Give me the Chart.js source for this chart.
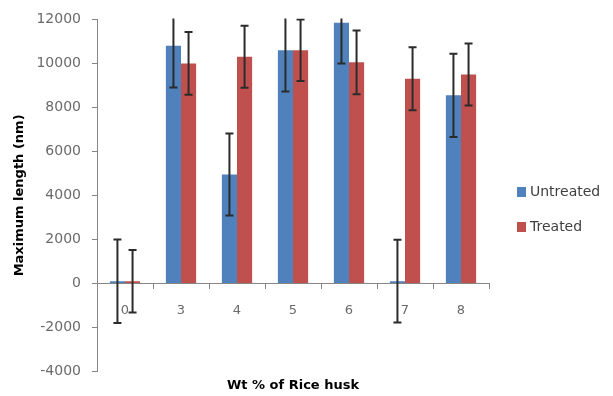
<!DOCTYPE html>
<html>
<head>
<meta charset="utf-8">
<script src="https://cdn.jsdelivr.net/npm/chart.js@4"></script>
<style>
  body { margin: 0; background: #fff; }
  #wrap { width: 613px; height: 396px; }
</style>
</head>
<body>
<div id="wrap"><canvas id="lengthChart" width="613" height="396"></canvas></div>
<script>
const categories = ['0', '3', '4', '5', '6', '7', '8'];
const untreated = [100, 10800, 4950, 10600, 11850, 100, 8550];
const treated = [100, 10000, 10300, 10600, 10050, 9300, 9500];
const untreatedErr = [1900, 1900, 1860, 1880, 1860, 1880, 1890];
const treatedErr = [1420, 1430, 1410, 1400, 1450, 1430, 1410];
const yTicks = { min: -4000, max: 12000, step: 2000 };

const errors = [untreatedErr, treatedErr];

// error bars drawn on top of bars, clipped to the chart area
const errorBars = {
    id: 'errorBars',
    afterDatasetsDraw(chart) {
        const ctx = chart.ctx;
        const y = chart.scales.y;
        const area = chart.chartArea;
        ctx.save();
        ctx.beginPath();
        ctx.rect(area.left, area.top - 1, area.right - area.left, area.bottom - area.top + 2);
        ctx.clip();
        ctx.strokeStyle = '#2b2b2b';
        ctx.lineWidth = 2;
        chart.data.datasets.forEach((ds, i) => {
            const meta = chart.getDatasetMeta(i);
            meta.data.forEach((bar, j) => {
                const v = ds.data[j];
                const e = errors[i][j];
                const top = y.getPixelForValue(v + e);
                const bot = y.getPixelForValue(v - e);
                ctx.beginPath();
                ctx.moveTo(bar.x, top);
                ctx.lineTo(bar.x, bot);
                ctx.moveTo(bar.x - 4, top);
                ctx.lineTo(bar.x + 4, top);
                ctx.moveTo(bar.x - 4, bot);
                ctx.lineTo(bar.x + 4, bot);
                ctx.stroke();
            });
        });
        ctx.restore();
    }
};

// legend on the right, like the Excel one
const sideLegend = {
    id: 'sideLegend',
    afterDraw(chart) {
        const ctx = chart.ctx;
        ctx.save();
        ctx.font = '14px "DejaVu Sans"';
        ctx.textBaseline = 'middle';
        chart.data.datasets.forEach((ds, i) => {
            const cy = 192 + i * 35;
            ctx.fillStyle = ds.backgroundColor;
            ctx.fillRect(517, cy - 5, 9, 10);
            ctx.fillStyle = '#404040';
            ctx.fillText(ds.label, 530, cy);
        });
        ctx.restore();
    }
};

new Chart(document.getElementById('lengthChart'), {
    type: 'bar',
    data: {
        labels: categories,
        datasets: [
            { label: 'Untreated', data: untreated, backgroundColor: '#4F81BD', xAxisID: 'x' },
            { label: 'Treated', data: treated, backgroundColor: '#C0504D', xAxisID: 'x' }
        ]
    },
    options: {
        responsive: false,
        animation: false,
        datasets: { bar: { categoryPercentage: 0.54, barPercentage: 1.0 } },
        layout: { padding: { left: 12, right: 124, top: 12, bottom: 3 } },
        plugins: {
            legend: { display: false },
            tooltip: { enabled: false }
        },
        scales: {
            x: {
                position: { y: 0 },
                offset: true,
                grid: { display: true, drawOnChartArea: false, drawTicks: true, tickLength: 5, offset: true, color: '#868686' },
                border: { color: '#868686', width: 1 },
                ticks: { color: '#6a6a6a', font: { family: 'DejaVu Sans', size: 13 }, padding: 14 }
            },
            x2: {
                type: 'category',
                labels: categories,
                position: 'bottom',
                grid: { display: false, drawTicks: false },
                border: { display: false },
                ticks: { display: false, padding: 0 },
                title: { display: true, text: 'Wt % of Rice husk', color: '#000', font: { family: 'DejaVu Sans', size: 13, weight: 'bold' }, padding: { top: 6, bottom: 0 } }
            },
            y: {
                min: yTicks.min,
                max: yTicks.max,
                afterFit(scale) { scale.width = 85; },
                ticks: {
                    stepSize: yTicks.step,
                    color: '#6a6a6a',
                    font: { family: 'DejaVu Sans', size: 14 },
                    padding: 11,
                    callback: (v) => String(v)
                },
                grid: { display: true, drawOnChartArea: false, drawTicks: true, tickLength: 5, color: '#868686' },
                border: { color: '#868686', width: 1 },
                title: { display: true, text: 'Maximum length (nm)', color: '#000', font: { family: 'DejaVu Sans', size: 13, weight: 'bold' }, padding: 0 }
            }
        }
    },
    plugins: [errorBars, sideLegend]
});
</script>
</body>
</html>
